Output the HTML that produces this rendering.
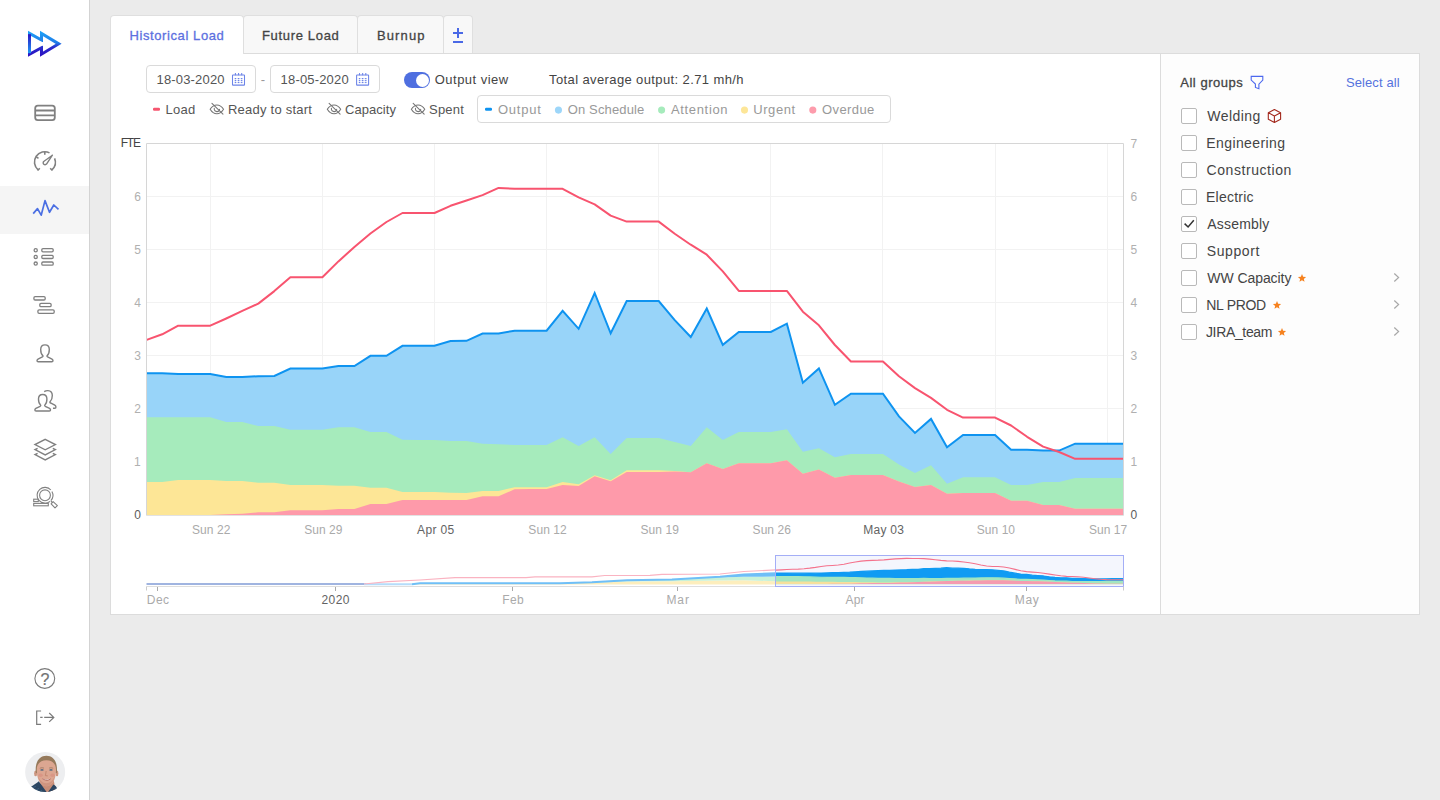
<!DOCTYPE html>
<html lang="en"><head><meta charset="utf-8"><title>Historical Load</title>
<style>
html,body{margin:0;padding:0}
body{width:1440px;height:800px;background:#ebebeb;font-family:"Liberation Sans", sans-serif;position:relative;overflow:hidden;color:#444}
.t{position:absolute;white-space:nowrap;line-height:1;display:block}
#sidebar{position:absolute;left:0;top:0;width:89px;height:800px;background:#fff;border-right:1px solid #d3d3d3}
#nav-active{position:absolute;left:0;top:186px;width:89px;height:48px;background:#f5f5f5}
.tab{position:absolute;top:15px;height:38px;box-sizing:border-box;background:#f8f8f8;border:1px solid #dfdfdf;border-bottom:none;border-radius:4px 4px 0 0}
.tab.active{background:#fff;height:39px;z-index:2}
#panel{position:absolute;left:110px;top:53px;width:1310px;height:562px;box-sizing:border-box;background:#fff;border:1px solid #dcdcdc}
#side{position:absolute;left:1160px;top:54px;width:259px;height:560px;box-sizing:border-box;background:#fdfdfd;border-left:1px solid #dcdcdc}
.inp{position:absolute;top:65px;width:110px;height:28px;box-sizing:border-box;border:1px solid #dadada;border-radius:4px;background:#fff}
#toggle{position:absolute;left:404px;top:72px;width:26px;height:16px;border-radius:8px;background:#4f6fe0}
#toggle i{position:absolute;left:11.5px;top:1.5px;width:13px;height:13px;border-radius:50%;background:#fff}
#lbox{position:absolute;left:477px;top:95px;width:414px;height:28px;box-sizing:border-box;border:1px solid #dadada;border-radius:4px}
.cb{position:absolute;left:1181px;width:16px;height:16px;box-sizing:border-box;border:1px solid #b9b9b9;border-radius:2px;background:#fff}
svg{position:absolute;left:0;top:0}
</style></head>
<body>
<div id="sidebar"><div id="nav-active"></div></div>
<div class="tab active" style="left:110px;width:134px"></div>
<div class="tab" style="left:243px;width:115px"></div>
<div class="tab" style="left:357px;width:87px"></div>
<div class="tab" style="left:443px;width:30px"></div>
<div id="panel"></div><div id="side"></div>
<div class="inp" style="left:146px"></div><div class="inp" style="left:270px"></div>
<div id="toggle"><i></i></div><div id="lbox"></div>
<div class="cb" style="top:108px"></div>
<div class="cb" style="top:135px"></div>
<div class="cb" style="top:162px"></div>
<div class="cb" style="top:189px"></div>
<div class="cb" style="top:216px"></div>
<div class="cb" style="top:243px"></div>
<div class="cb" style="top:270px"></div>
<div class="cb" style="top:297px"></div>
<div class="cb" style="top:324px"></div>
<svg width="1440" height="800" viewBox="0 0 1440 800" style="z-index:3">
<defs>
<linearGradient id="lg1" x1="0" y1="31" x2="0" y2="57" gradientUnits="userSpaceOnUse"><stop offset="0" stop-color="#1ea4f7"/><stop offset="0.45" stop-color="#1f7be8"/><stop offset="0.62" stop-color="#2a2ccc"/><stop offset="1" stop-color="#2b0cc0"/></linearGradient>
<linearGradient id="lg2" x1="0" y1="34" x2="0" y2="53" gradientUnits="userSpaceOnUse"><stop offset="0" stop-color="#2b10c2"/><stop offset="1" stop-color="#1e9af5"/></linearGradient>
</defs>
<path d="M29.5 33.4 L41.5 40 L41.5 33.5 L58.7 43.85 L41.5 54.2 L41.5 47.7 L29.5 54.3 Z" fill="none" stroke="url(#lg1)" stroke-width="3" stroke-linejoin="miter" stroke-miterlimit="6"/>
<rect x="28" y="34.2" width="3" height="19" fill="url(#lg2)"/>
<path d="M39.6 41.6 L43.4 42.3 L43.4 45.4 L39.6 46.1 Z" fill="#fff"/>
<g fill="none" stroke="#808080" stroke-width="1.8"><rect x="35.2" y="105.7" width="19.6" height="14.4" rx="2.6"/><path d="M35.2 110.5H54.8M35.2 115.4H54.8"/></g>
<g fill="none" stroke="#808080" stroke-width="1.6" stroke-linecap="butt"><path d="M38.1 169.9 A10.3 10.3 0 0 1 49.5 152.9"/><path d="M54.6 158.4 A10.3 10.3 0 0 1 51.9 169.9"/><path d="M37.6 170.5 L39.8 168.2 M52.4 170.5 L50.2 168.2 M44.8 152 V154.7 M36 156.7 L38.5 158.4"/><path d="M52.4 155.2 L43.7 161.5 A1.9 1.9 0 1 0 46.5 164.1 Z" stroke-linejoin="round" stroke-width="1.4"/></g>
<polyline points="33.2,213.6 37.5,208.6 41.2,215.2 45,200.6 49.5,212.3 53.8,205 58.5,209.4" fill="none" stroke="#4b6fe3" stroke-width="1.7" stroke-linejoin="round"/>
<g fill="none" stroke="#808080" stroke-width="1.3">
<circle cx="35.7" cy="250.2" r="1.6"/><rect x="41.8" y="248.6" width="11.4" height="3.2" rx="1.2"/>
<circle cx="35.7" cy="256.9" r="1.6"/><rect x="41.8" y="255.3" width="11.4" height="3.2" rx="1.2"/>
<circle cx="35.7" cy="263.6" r="1.6"/><rect x="41.8" y="262" width="11.4" height="3.2" rx="1.2"/>
</g>
<g fill="none" stroke="#808080" stroke-width="1.3"><rect x="33.9" y="296.7" width="11.3" height="3.3" rx="1.2"/><rect x="39.8" y="303.3" width="11.3" height="3.3" rx="1.2"/><rect x="37.9" y="309.9" width="16.3" height="3.4" rx="1.2"/></g>
<path d="M45 344.9 C42.1 344.9 40.7 346.9 40.7 349.5 C40.7 352.3 41.5 354.5 42.8 355.6 C43.2 356 43 356.6 42.4 356.9 L38 359.1 C36.7 359.9 36.6 361.8 38.2 361.8 L51.8 361.8 C53.4 361.8 53.3 359.9 52 359.1 L47.6 356.9 C47 356.6 46.8 356 47.2 355.6 C48.5 354.5 49.3 352.3 49.3 349.5 C49.3 346.9 47.9 344.9 45 344.9 Z" fill="none" stroke="#808080" stroke-width="1.4" stroke-linejoin="round"/>
<path d="M42.7 394.5 C39.86 394.5 38.49 396.46 38.49 399.01 C38.49 401.75 39.27 403.91 40.54 404.99 C40.94 405.38 40.74 405.97 40.15 406.26 L35.84 408.42 C34.57 409.2 34.47 411.06 36.04 411.06 L49.36 411.06 C50.93 411.06 50.83 409.2 49.56 408.42 L45.25 406.26 C44.66 405.97 44.46 405.38 44.86 404.99 C46.13 403.91 46.91 401.75 46.91 399.01 C46.91 396.46 45.54 394.5 42.7 394.5 Z" fill="none" stroke="#808080" stroke-width="1.4" stroke-linejoin="round"/>
<path d="M44.2 391.6 C45.3 390.9 46.6 390.5 47.9 390.6 C51 390.8 52.3 393 52.3 395.6 C52.3 398.4 51.5 400.4 50.2 401.6 C49.7 402.1 49.8 402.7 50.5 403 L54.8 405.2 C56.2 406 56.4 408.2 54.8 408.3 L53 408.3" fill="none" stroke="#808080" stroke-width="1.4" stroke-linecap="butt"/>
<g fill="none" stroke="#808080" stroke-width="1.4" stroke-linejoin="miter"><path d="M45.2 439.4 L55.4 444.6 L45.2 449.8 L35 444.6 Z"/><path d="M37.6 448.3 L35 449.6 L45.2 454.9 L55.4 449.6 L52.8 448.3"/><path d="M37.6 453.3 L35 454.6 L45.2 459.9 L55.4 454.6 L52.8 453.3"/></g>
<g fill="none" stroke="#808080" stroke-width="1.1"><path d="M50.87 490 A7.9 7.9 0 1 0 50.08 501.35" /><path d="M51.91 491.47 A7.9 7.9 0 0 1 50.87 500.59" /><circle cx="45" cy="495.3" r="5.4"/><path d="M51 501.2 L52.4 502.6"/><path d="M53.1 501.6 L57.4 505.6 L55 507.9 L51.1 503.8 Z" stroke-linejoin="round"/><rect x="33.7" y="499.2" width="4.6" height="2.4"/><rect x="33.7" y="503.4" width="14.6" height="2.4"/></g>
<circle cx="44.8" cy="678.5" r="9.9" fill="none" stroke="#7a7a7a" stroke-width="1.1"/>
<g fill="none" stroke="#7a7a7a" stroke-width="1.2"><path d="M41.1 711H36.7V724.3H41.1"/><path d="M40.2 717.4H42.6M44.2 717.4H53.6M49.2 713 L53.8 717.4 L49.2 721.9"/></g>
<defs><clipPath id="av"><circle cx="45.15" cy="772" r="20"/></clipPath></defs>
<g clip-path="url(#av)"><rect x="25" y="752" width="41" height="41" fill="#edeef0"/>
<path d="M40 779 L53.6 779 L55.4 790 L47 795 L40.5 788 Z" fill="#c78d77"/>
<path d="M27 797 L31 786.8 C33.6 784.8 36.6 783.2 38.8 781.2 L47.3 793 L53.4 784.6 C55.2 785.6 56.8 786.8 57.4 789.6 L58.4 797 Z" fill="#2b4662"/>
<path d="M33 787.5 L36 786.2 M35 790.5 L39 788.4 M39.5 792 L42 790 M55 788 L56.6 790.5" stroke="#3f6283" stroke-width="0.8" fill="none"/>
<ellipse cx="35.6" cy="773.4" rx="1.5" ry="2.9" fill="#cc957f"/><ellipse cx="57" cy="773.4" rx="1.4" ry="2.8" fill="#cc957f"/>
<path d="M35.9 773 C34.7 762.5 38.8 755.7 46.4 755.7 C54 755.7 57.9 762.5 56.8 773 Z" fill="#95795b"/>
<path d="M36.8 771 C36.3 765.2 39 760.5 46.4 760.3 C53.7 760.5 56.4 765.2 56 771 C56 779.2 52.2 786.3 46.4 786.3 C40.6 786.3 36.8 779.2 36.8 771 Z" fill="#dca691"/>
<path d="M37.6 774.5 C38.8 781.6 42.2 786.3 46.4 786.3 C50.6 786.3 54 781.6 55.2 774.5 C53.4 780.6 50 783.2 46.4 783.2 C42.8 783.2 39.4 780.6 37.6 774.5 Z" fill="#cf9580"/>
<ellipse cx="40.6" cy="775.3" rx="2.2" ry="1.8" fill="#d79080" opacity="0.7"/><ellipse cx="52.6" cy="775.3" rx="2.2" ry="1.8" fill="#d79080" opacity="0.7"/>
<path d="M42 778.3 C44.4 779.7 48.8 779.7 51.2 778.2 C49.6 781.2 43.8 781.4 42 778.3 Z" fill="#a45a54"/>
<path d="M42.8 778.7 C45.2 779.5 48.2 779.5 50.4 778.6 C48.8 780.2 44.4 780.3 42.8 778.7 Z" fill="#f4eae5"/>
<ellipse cx="42" cy="769.9" rx="1.7" ry="0.85" fill="#5d6d80"/><ellipse cx="51" cy="769.9" rx="1.7" ry="0.85" fill="#5d6d80"/>
<path d="M39.8 768.3 C41 767.6 43 767.6 44 768.2 M49 768.2 C50 767.6 52 767.6 53.2 768.3" fill="none" stroke="#8a6a52" stroke-width="0.6"/>
<path d="M46.2 771 L45.4 775.6 L47.8 775.9" fill="none" stroke="#bf846d" stroke-width="0.9"/>
</g>
<defs><clipPath id="plot"><rect x="147" y="144" width="976" height="371.2"/></clipPath></defs>
<path d="M147 461.5H1123M147 408.5H1123M147 355.5H1123M147 302.5H1123M147 249.5H1123M147 196.5H1123M210.5 144V515M322.5 144V515M434.5 144V515M546.5 144V515M658.5 144V515M770.5 144V515M882.5 144V515M995.5 144V515M1107.5 144V515" stroke="#f2f2f2" stroke-width="1" fill="none"/>
<g clip-path="url(#plot)">
<polygon points="146.2,373.2 162.22,373.2 178.23,374.1 194.25,374.1 210.27,374.1 226.28,377 242.3,377 258.31,376.2 274.33,376 290.35,368.6 306.36,368.6 322.38,368.6 338.4,366 354.41,366 370.43,355.8 386.45,355.8 402.46,345.8 418.48,345.8 434.5,345.8 450.51,341 466.53,340.8 482.54,333.5 498.56,333.5 514.58,330.7 530.59,330.7 546.61,330.7 562.63,310.9 578.64,328.8 594.66,293 610.68,333.3 626.69,301.1 642.71,301.1 658.72,301.1 674.74,320.2 690.76,337 706.77,308.6 722.79,344.9 738.81,331.9 754.82,331.9 770.84,331.9 786.86,323.7 802.87,382.7 818.89,368.4 834.9,404.8 850.92,393.7 866.94,393.7 882.95,393.7 898.97,416.4 914.99,432.9 931,418.9 947.02,447.2 963.04,434.9 979.05,434.9 995.07,434.9 1011.09,449.7 1027.1,449.7 1043.12,450.6 1059.13,450.6 1075.15,443.7 1091.17,443.7 1107.18,443.7 1123.2,443.7 1124.5,443.7 1124.5,515.4 1123.2,515.4 1107.18,515.4 1091.17,515.4 1075.15,515.4 1059.13,515.4 1043.12,515.4 1027.1,515.4 1011.09,515.4 995.07,515.4 979.05,515.4 963.04,515.4 947.02,515.4 931,515.4 914.99,515.4 898.97,515.4 882.95,515.4 866.94,515.4 850.92,515.4 834.9,515.4 818.89,515.4 802.87,515.4 786.86,515.4 770.84,515.4 754.82,515.4 738.81,515.4 722.79,515.4 706.77,515.4 690.76,515.4 674.74,515.4 658.72,515.4 642.71,515.4 626.69,515.4 610.68,515.4 594.66,515.4 578.64,515.4 562.63,515.4 546.61,515.4 530.59,515.4 514.58,515.4 498.56,515.4 482.54,515.4 466.53,515.4 450.51,515.4 434.5,515.4 418.48,515.4 402.46,515.4 386.45,515.4 370.43,515.4 354.41,515.4 338.4,515.4 322.38,515.4 306.36,515.4 290.35,515.4 274.33,515.4 258.31,515.4 242.3,515.4 226.28,515.4 210.27,515.4 194.25,515.4 178.23,515.4 162.22,515.4 146.2,515.4" fill="#98d4f9"/>
<polygon points="146.2,417.2 162.22,417.2 178.23,417.2 194.25,417.2 210.27,417.2 226.28,421.9 242.3,421.9 258.31,426 274.33,426 290.35,429.8 306.36,429.8 322.38,429.8 338.4,427.2 354.41,427.2 370.43,431.9 386.45,431.9 402.46,439.8 418.48,440 434.5,440 450.51,441 466.53,441 482.54,443.7 498.56,444.2 514.58,445 530.59,445 546.61,445 562.63,437.2 578.64,446 594.66,437.2 610.68,454 626.69,438 642.71,438 658.72,438 674.74,441.9 690.76,446 706.77,427.2 722.79,440 738.81,432 754.82,432 770.84,432 786.86,429.3 802.87,451.7 818.89,448.3 834.9,457.3 850.92,454.1 866.94,454.1 882.95,454.1 898.97,464.6 914.99,472.9 931,465.3 947.02,483.8 963.04,477.2 979.05,477.2 995.07,477.2 1011.09,485 1027.1,485 1043.12,482.1 1059.13,482.1 1075.15,478 1091.17,478 1107.18,478 1123.2,478 1124.5,478 1124.5,515.4 1123.2,515.4 1107.18,515.4 1091.17,515.4 1075.15,515.4 1059.13,515.4 1043.12,515.4 1027.1,515.4 1011.09,515.4 995.07,515.4 979.05,515.4 963.04,515.4 947.02,515.4 931,515.4 914.99,515.4 898.97,515.4 882.95,515.4 866.94,515.4 850.92,515.4 834.9,515.4 818.89,515.4 802.87,515.4 786.86,515.4 770.84,515.4 754.82,515.4 738.81,515.4 722.79,515.4 706.77,515.4 690.76,515.4 674.74,515.4 658.72,515.4 642.71,515.4 626.69,515.4 610.68,515.4 594.66,515.4 578.64,515.4 562.63,515.4 546.61,515.4 530.59,515.4 514.58,515.4 498.56,515.4 482.54,515.4 466.53,515.4 450.51,515.4 434.5,515.4 418.48,515.4 402.46,515.4 386.45,515.4 370.43,515.4 354.41,515.4 338.4,515.4 322.38,515.4 306.36,515.4 290.35,515.4 274.33,515.4 258.31,515.4 242.3,515.4 226.28,515.4 210.27,515.4 194.25,515.4 178.23,515.4 162.22,515.4 146.2,515.4" fill="#a6ebbc"/>
<polygon points="146.2,481.9 162.22,481.9 178.23,480 194.25,480 210.27,480 226.28,481 242.3,481 258.31,482.8 274.33,482.8 290.35,484.9 306.36,484.9 322.38,484.9 338.4,485.8 354.41,485.8 370.43,487.7 386.45,487.7 402.46,491.9 418.48,491.9 434.5,491.9 450.51,492.8 466.53,493 482.54,491 498.56,491 514.58,487.2 530.59,487.2 546.61,487.2 562.63,482 578.64,484.2 594.66,475.3 610.68,480.2 626.69,470.2 642.71,470.2 658.72,470.2 674.74,471 690.76,472.3 706.77,463.3 722.79,469 738.81,463.3 754.82,463.3 770.84,463.3 786.86,460.2 802.87,473.8 818.89,469.4 834.9,477.7 850.92,475 866.94,475 882.95,475 898.97,481.6 914.99,487 931,485 947.02,493.8 963.04,493 979.05,493 995.07,493 1011.09,500.8 1027.1,500.8 1043.12,505 1059.13,505 1075.15,508.8 1091.17,508.8 1107.18,508.8 1123.2,508.8 1124.5,508.8 1124.5,515.4 1123.2,515.4 1107.18,515.4 1091.17,515.4 1075.15,515.4 1059.13,515.4 1043.12,515.4 1027.1,515.4 1011.09,515.4 995.07,515.4 979.05,515.4 963.04,515.4 947.02,515.4 931,515.4 914.99,515.4 898.97,515.4 882.95,515.4 866.94,515.4 850.92,515.4 834.9,515.4 818.89,515.4 802.87,515.4 786.86,515.4 770.84,515.4 754.82,515.4 738.81,515.4 722.79,515.4 706.77,515.4 690.76,515.4 674.74,515.4 658.72,515.4 642.71,515.4 626.69,515.4 610.68,515.4 594.66,515.4 578.64,515.4 562.63,515.4 546.61,515.4 530.59,515.4 514.58,515.4 498.56,515.4 482.54,515.4 466.53,515.4 450.51,515.4 434.5,515.4 418.48,515.4 402.46,515.4 386.45,515.4 370.43,515.4 354.41,515.4 338.4,515.4 322.38,515.4 306.36,515.4 290.35,515.4 274.33,515.4 258.31,515.4 242.3,515.4 226.28,515.4 210.27,515.4 194.25,515.4 178.23,515.4 162.22,515.4 146.2,515.4" fill="#fde696"/>
<polygon points="146.2,515.4 162.22,515.4 178.23,515.4 194.25,515.27 210.27,515.02 226.28,514.27 242.3,513.64 258.31,512.26 274.33,512.26 290.35,510.2 306.36,510.2 322.38,510.2 338.4,509 354.41,509 370.43,504 386.45,504 402.46,500 418.48,500 434.5,500 450.51,500 466.53,500 482.54,496.3 498.56,496.3 514.58,489.3 530.59,489 546.61,489 562.63,484.9 578.64,486 594.66,476.3 610.68,481.2 626.69,472 642.71,472 658.72,472 674.74,471.4 690.76,472.3 706.77,463.3 722.79,469 738.81,463.3 754.82,463.3 770.84,463.3 786.86,460.2 802.87,473.8 818.89,469.4 834.9,477.7 850.92,475 866.94,475 882.95,475 898.97,481.6 914.99,487 931,485 947.02,493.8 963.04,493 979.05,493 995.07,493 1011.09,500.8 1027.1,500.8 1043.12,505 1059.13,505 1075.15,508.8 1091.17,508.8 1107.18,508.8 1123.2,508.8 1124.5,508.8 1124.5,515.4 1123.2,515.4 1107.18,515.4 1091.17,515.4 1075.15,515.4 1059.13,515.4 1043.12,515.4 1027.1,515.4 1011.09,515.4 995.07,515.4 979.05,515.4 963.04,515.4 947.02,515.4 931,515.4 914.99,515.4 898.97,515.4 882.95,515.4 866.94,515.4 850.92,515.4 834.9,515.4 818.89,515.4 802.87,515.4 786.86,515.4 770.84,515.4 754.82,515.4 738.81,515.4 722.79,515.4 706.77,515.4 690.76,515.4 674.74,515.4 658.72,515.4 642.71,515.4 626.69,515.4 610.68,515.4 594.66,515.4 578.64,515.4 562.63,515.4 546.61,515.4 530.59,515.4 514.58,515.4 498.56,515.4 482.54,515.4 466.53,515.4 450.51,515.4 434.5,515.4 418.48,515.4 402.46,515.4 386.45,515.4 370.43,515.4 354.41,515.4 338.4,515.4 322.38,515.4 306.36,515.4 290.35,515.4 274.33,515.4 258.31,515.4 242.3,515.4 226.28,515.4 210.27,515.4 194.25,515.4 178.23,515.4 162.22,515.4 146.2,515.4" fill="#fe9aaa"/>
<polyline points="146.2,373.2 162.22,373.2 178.23,374.1 194.25,374.1 210.27,374.1 226.28,377 242.3,377 258.31,376.2 274.33,376 290.35,368.6 306.36,368.6 322.38,368.6 338.4,366 354.41,366 370.43,355.8 386.45,355.8 402.46,345.8 418.48,345.8 434.5,345.8 450.51,341 466.53,340.8 482.54,333.5 498.56,333.5 514.58,330.7 530.59,330.7 546.61,330.7 562.63,310.9 578.64,328.8 594.66,293 610.68,333.3 626.69,301.1 642.71,301.1 658.72,301.1 674.74,320.2 690.76,337 706.77,308.6 722.79,344.9 738.81,331.9 754.82,331.9 770.84,331.9 786.86,323.7 802.87,382.7 818.89,368.4 834.9,404.8 850.92,393.7 866.94,393.7 882.95,393.7 898.97,416.4 914.99,432.9 931,418.9 947.02,447.2 963.04,434.9 979.05,434.9 995.07,434.9 1011.09,449.7 1027.1,449.7 1043.12,450.6 1059.13,450.6 1075.15,443.7 1091.17,443.7 1107.18,443.7 1123.2,443.7 1124.5,443.7" fill="none" stroke="#0e93f0" stroke-width="2" stroke-linejoin="miter"/>
<polyline points="146.2,340 162.22,334.3 178.23,325.7 194.25,325.7 210.27,325.7 226.28,318.5 242.3,310.9 258.31,303.6 274.33,291.1 290.35,277.2 306.36,277.2 322.38,277.2 338.4,261.4 354.41,247 370.43,233.5 386.45,222 402.46,213 418.48,213 434.5,213 450.51,205.8 466.53,200.5 482.54,195.1 498.56,187.9 514.58,188.8 530.59,188.8 546.61,188.8 562.63,188.8 578.64,197.4 594.66,204.4 610.68,215.6 626.69,221.6 642.71,221.6 658.72,221.6 674.74,233.7 690.76,244.7 706.77,254.7 722.79,271.4 738.81,290.9 754.82,290.9 770.84,290.9 786.86,290.9 802.87,311.7 818.89,325.3 834.9,345 850.92,361.5 866.94,361.5 882.95,361.5 898.97,376.3 914.99,388.1 931,397.9 947.02,409.8 963.04,417.6 979.05,417.6 995.07,417.6 1011.09,425.5 1027.1,436.8 1043.12,446.6 1059.13,452 1075.15,458.8 1091.17,458.8 1107.18,458.8 1123.2,458.8 1124.5,458.8" fill="none" stroke="#f8546f" stroke-width="2" stroke-linejoin="round"/>
</g>
<path d="M146.5 515.5V143.5H1123.5V515.5" fill="none" stroke="#d6d6d6" stroke-width="1"/>
<path d="M146.5 515.5H1123.5" fill="none" stroke="#e2e2e2" stroke-width="1"/>
<rect x="775.5" y="555.5" width="348" height="31" fill="#f4f6fd" stroke="none"/>
<polygon points="412,584.2 420,583.4 560,583.5 592,582.8 627,581.6 672,581.2 720,580.6 743.7,580.2 775.5,581.3 775.5,584.6 412,584.6" fill="#fdeebd"/>
<polygon points="412,584.2 420,583.4 560,583.5 592,582.6 627,580.6 672,579.7 715,577.3 728,577.2 743.7,576.8 775.5,576.6 775.5,581.3 743.7,580.2 720,580.6 672,581.2 627,581.6 592,582.8 560,583.5 420,583.4 412,584.2" fill="#c9f2d8"/>
<polygon points="412,584.2 420,583.2 560,583.3 592,582.3 627,580.3 672,579.4 720,576.7 743.7,574.6 775.5,573.3 775.5,576.6 743.7,576.8 728,577.2 715,577.3 672,579.7 627,580.6 592,582.6 560,583.5 420,583.4 412,584.2" fill="#6fbff7"/>
<polyline points="412,584.2 420,583.2 560,583.3 592,582.3 627,580.3 672,579.4 720,576.7 743.7,574.6 775.5,573.3" fill="none" stroke="#6fbff7" stroke-width="2"/>
<polyline points="146.5,584 366,584" fill="none" stroke="#a0b4e0" stroke-width="2"/>
<polyline points="364,584.2 412,584.2" fill="none" stroke="#b5dcfa" stroke-width="2"/>
<polyline points="364,584 388,581.6 420,580 455,577.6 526,577.6 535,576.8 592,576.8 604.7,575.5 650,575.3 662,574.4 720,574 743.7,571.5 775.5,569.9" fill="none" stroke="#fab3c1" stroke-width="1.2"/>
<defs><clipPath id="brc"><rect x="776" y="556" width="347" height="30"/></clipPath></defs><g clip-path="url(#brc)">
<polygon points="775.5,573.05 781.2,573.06 786.91,573.07 792.61,573.13 798.32,573.19 804.02,573.22 809.73,573.25 815.43,573.16 821.14,573.03 826.84,572.9 832.55,572.74 838.25,572.58 843.96,572.38 849.66,572.17 855.37,571.81 861.07,571.49 866.78,571.17 872.48,570.94 878.19,570.7 883.89,570.51 889.6,570.31 895.3,570.07 901.01,569.91 906.71,569.75 912.42,569.39 918.12,569.32 923.83,568.72 929.53,568.76 935.24,568.3 940.94,568.14 946.65,567.7 952.35,568.13 958.06,568.19 963.76,568.31 969.47,569 975.17,569.49 980.88,569.68 986.58,569.59 992.29,569.83 997.99,570.43 1003.7,571.01 1009.4,572.16 1015.11,573.14 1020.81,574.25 1026.52,574.42 1032.22,575.18 1037.93,575.62 1043.63,576.02 1049.34,576.87 1055.04,577.52 1060.75,577.81 1066.45,577.85 1072.16,578.33 1077.86,578.37 1083.57,578.62 1089.27,578.87 1094.98,579.01 1100.68,578.91 1106.39,578.82 1112.09,578.71 1117.8,578.6 1123.5,578.6 1123.5,584.3 1117.8,584.3 1112.09,584.3 1106.39,584.3 1100.68,584.3 1094.98,584.3 1089.27,584.3 1083.57,584.3 1077.86,584.3 1072.16,584.3 1066.45,584.3 1060.75,584.3 1055.04,584.3 1049.34,584.3 1043.63,584.3 1037.93,584.3 1032.22,584.3 1026.52,584.3 1020.81,584.3 1015.11,584.3 1009.4,584.3 1003.7,584.3 997.99,584.3 992.29,584.3 986.58,584.3 980.88,584.3 975.17,584.3 969.47,584.3 963.76,584.3 958.06,584.3 952.35,584.3 946.65,584.3 940.94,584.3 935.24,584.3 929.53,584.3 923.83,584.3 918.12,584.3 912.42,584.3 906.71,584.3 901.01,584.3 895.3,584.3 889.6,584.3 883.89,584.3 878.19,584.3 872.48,584.3 866.78,584.3 861.07,584.3 855.37,584.3 849.66,584.3 843.96,584.3 838.25,584.3 832.55,584.3 826.84,584.3 821.14,584.3 815.43,584.3 809.73,584.3 804.02,584.3 798.32,584.3 792.61,584.3 786.91,584.3 781.2,584.3 775.5,584.3" fill="#109bf3" stroke="#109bf3" stroke-width="1.3" stroke-linejoin="round"/>
<polygon points="775.5,576.5 781.2,576.5 786.91,576.5 792.61,576.58 798.32,576.65 804.02,576.79 809.73,576.93 815.43,577.13 821.14,577.26 826.84,577.38 832.55,577.4 838.25,577.42 843.96,577.45 849.66,577.48 855.37,577.64 861.07,577.85 866.78,578.05 872.48,578.19 878.19,578.34 883.89,578.4 889.6,578.46 895.3,578.54 901.01,578.61 906.71,578.67 912.42,578.57 918.12,578.6 923.83,578.47 929.53,578.61 935.24,578.5 940.94,578.52 946.65,578.39 952.35,578.46 958.06,578.34 963.76,578.17 969.47,578.2 975.17,578.1 980.88,577.95 986.58,577.73 992.29,577.76 997.99,577.94 1003.7,578.2 1009.4,578.6 1015.11,578.95 1020.81,579.34 1026.52,579.38 1032.22,579.64 1037.93,579.89 1043.63,580.06 1049.34,580.53 1055.04,580.9 1060.75,581.1 1066.45,581.17 1072.16,581.48 1077.86,581.5 1083.57,581.57 1089.27,581.65 1094.98,581.66 1100.68,581.55 1106.39,581.44 1112.09,581.38 1117.8,581.31 1123.5,581.31 1123.5,584.3 1117.8,584.3 1112.09,584.3 1106.39,584.3 1100.68,584.3 1094.98,584.3 1089.27,584.3 1083.57,584.3 1077.86,584.3 1072.16,584.3 1066.45,584.3 1060.75,584.3 1055.04,584.3 1049.34,584.3 1043.63,584.3 1037.93,584.3 1032.22,584.3 1026.52,584.3 1020.81,584.3 1015.11,584.3 1009.4,584.3 1003.7,584.3 997.99,584.3 992.29,584.3 986.58,584.3 980.88,584.3 975.17,584.3 969.47,584.3 963.76,584.3 958.06,584.3 952.35,584.3 946.65,584.3 940.94,584.3 935.24,584.3 929.53,584.3 923.83,584.3 918.12,584.3 912.42,584.3 906.71,584.3 901.01,584.3 895.3,584.3 889.6,584.3 883.89,584.3 878.19,584.3 872.48,584.3 866.78,584.3 861.07,584.3 855.37,584.3 849.66,584.3 843.96,584.3 838.25,584.3 832.55,584.3 826.84,584.3 821.14,584.3 815.43,584.3 809.73,584.3 804.02,584.3 798.32,584.3 792.61,584.3 786.91,584.3 781.2,584.3 775.5,584.3" fill="#a3e6c1" stroke="#a3e6c1" stroke-width="1.2" stroke-linejoin="round"/>
<polygon points="775.5,581.57 781.2,581.55 786.91,581.53 792.61,581.52 798.32,581.5 804.02,581.55 809.73,581.59 815.43,581.67 821.14,581.73 826.84,581.79 832.55,581.84 838.25,581.89 843.96,581.93 849.66,581.98 855.37,582.09 861.07,582.18 866.78,582.28 872.48,582.36 878.19,582.44 883.89,582.43 889.6,582.42 895.3,582.34 901.01,582.25 906.71,582.16 912.42,582.02 918.12,581.91 923.83,581.72 929.53,581.61 935.24,581.34 940.94,581.16 946.65,580.94 952.35,580.87 958.06,580.74 963.76,580.63 969.47,580.61 975.17,580.5 980.88,580.38 986.58,580.24 992.29,580.19 997.99,580.27 1003.7,580.36 1009.4,580.59 1015.11,580.78 1020.81,581.01 1026.52,581.03 1032.22,581.22 1037.93,581.37 1043.63,581.53 1049.34,581.83 1055.04,582.11 1060.75,582.29 1066.45,582.39 1072.16,582.64 1077.86,582.75 1083.57,582.94 1089.27,583.13 1094.98,583.38 1100.68,583.5 1106.39,583.63 1112.09,583.69 1117.8,583.75 1123.5,583.75 1123.5,584.3 1117.8,584.3 1112.09,584.3 1106.39,584.3 1100.68,584.3 1094.98,584.3 1089.27,584.3 1083.57,584.3 1077.86,584.3 1072.16,584.3 1066.45,584.3 1060.75,584.3 1055.04,584.3 1049.34,584.3 1043.63,584.3 1037.93,584.3 1032.22,584.3 1026.52,584.3 1020.81,584.3 1015.11,584.3 1009.4,584.3 1003.7,584.3 997.99,584.3 992.29,584.3 986.58,584.3 980.88,584.3 975.17,584.3 969.47,584.3 963.76,584.3 958.06,584.3 952.35,584.3 946.65,584.3 940.94,584.3 935.24,584.3 929.53,584.3 923.83,584.3 918.12,584.3 912.42,584.3 906.71,584.3 901.01,584.3 895.3,584.3 889.6,584.3 883.89,584.3 878.19,584.3 872.48,584.3 866.78,584.3 861.07,584.3 855.37,584.3 849.66,584.3 843.96,584.3 838.25,584.3 832.55,584.3 826.84,584.3 821.14,584.3 815.43,584.3 809.73,584.3 804.02,584.3 798.32,584.3 792.61,584.3 786.91,584.3 781.2,584.3 775.5,584.3" fill="#f6e09c"/>
<polygon points="775.5,584.27 781.2,584.27 786.91,584.26 792.61,584.25 798.32,584.22 804.02,584.17 809.73,584.12 815.43,584.04 821.14,583.98 826.84,583.92 832.55,583.87 838.25,583.82 843.96,583.72 849.66,583.63 855.37,583.46 861.07,583.32 866.78,583.18 872.48,583.12 878.19,583.05 883.89,582.99 889.6,582.94 895.3,582.77 901.01,582.59 906.71,582.42 912.42,582.24 918.12,582.08 923.83,581.87 929.53,581.75 935.24,581.48 940.94,581.27 946.65,581.05 952.35,580.97 958.06,580.83 963.76,580.7 969.47,580.65 975.17,580.51 980.88,580.38 986.58,580.24 992.29,580.19 997.99,580.27 1003.7,580.36 1009.4,580.59 1015.11,580.78 1020.81,581.01 1026.52,581.03 1032.22,581.22 1037.93,581.37 1043.63,581.53 1049.34,581.83 1055.04,582.11 1060.75,582.29 1066.45,582.39 1072.16,582.64 1077.86,582.75 1083.57,582.94 1089.27,583.13 1094.98,583.38 1100.68,583.5 1106.39,583.63 1112.09,583.69 1117.8,583.75 1123.5,583.75 1123.5,584.3 1117.8,584.3 1112.09,584.3 1106.39,584.3 1100.68,584.3 1094.98,584.3 1089.27,584.3 1083.57,584.3 1077.86,584.3 1072.16,584.3 1066.45,584.3 1060.75,584.3 1055.04,584.3 1049.34,584.3 1043.63,584.3 1037.93,584.3 1032.22,584.3 1026.52,584.3 1020.81,584.3 1015.11,584.3 1009.4,584.3 1003.7,584.3 997.99,584.3 992.29,584.3 986.58,584.3 980.88,584.3 975.17,584.3 969.47,584.3 963.76,584.3 958.06,584.3 952.35,584.3 946.65,584.3 940.94,584.3 935.24,584.3 929.53,584.3 923.83,584.3 918.12,584.3 912.42,584.3 906.71,584.3 901.01,584.3 895.3,584.3 889.6,584.3 883.89,584.3 878.19,584.3 872.48,584.3 866.78,584.3 861.07,584.3 855.37,584.3 849.66,584.3 843.96,584.3 838.25,584.3 832.55,584.3 826.84,584.3 821.14,584.3 815.43,584.3 809.73,584.3 804.02,584.3 798.32,584.3 792.61,584.3 786.91,584.3 781.2,584.3 775.5,584.3" fill="#f59bb0"/>
<rect x="776" y="584.3" width="347" height="1.8" fill="#f4f6fd"/>
<polyline points="775.5,570.17 781.2,569.87 786.91,569.49 792.61,569.27 798.32,569.08 804.02,568.69 809.73,568.1 815.43,567.38 821.14,566.49 826.84,565.8 832.55,565.43 838.25,565.01 843.96,564.22 849.66,563.07 855.37,562.03 861.07,561.13 866.78,560.59 872.48,560.35 878.19,560.16 883.89,559.83 889.6,559.36 895.3,558.89 901.01,558.58 906.71,558.42 912.42,558.44 918.12,558.44 923.83,558.67 929.53,559.08 935.24,559.78 940.94,560.42 946.65,560.88 952.35,561.03 958.06,561.35 963.76,561.96 969.47,562.83 975.17,563.83 980.88,565.05 986.58,566 992.29,566.51 997.99,566.51 1003.7,567.06 1009.4,567.97 1015.11,569.4 1020.81,570.71 1026.52,571.66 1032.22,572.1 1037.93,572.49 1043.63,573.19 1049.34,574.15 1055.04,575.03 1060.75,575.81 1066.45,576.33 1072.16,576.54 1077.86,576.74 1083.57,577.25 1089.27,578.01 1094.98,578.71 1100.68,579.29 1106.39,579.62 1112.09,579.79 1117.8,579.79 1123.5,579.79" fill="none" stroke="#f4728c" stroke-width="1.1"/>
</g>
<rect x="775.5" y="555.5" width="348" height="31" fill="none" stroke="#a4aef6" stroke-width="1"/>
<path d="M146.5 586.5H775" stroke="#dedede" stroke-width="1" fill="none"/>
<path d="M146.5 586.5V590.5M1123.5 586.5V590.5" stroke="#ccc" stroke-width="1" fill="none"/>
<path d="M157.5 587V591M335.5 587V591M512.5 587V591M677.5 587V591M854.5 587V591M1026.5 587V591" stroke="#aaa" stroke-width="1" fill="none"/>
<path d="M453 33H463M458 28V38M453 42H463" stroke="#4a69e6" stroke-width="2" fill="none"/>
<g fill="none" stroke="#6c84e8" stroke-width="1.05"><rect x="232.5" y="74.95" width="12" height="10.2" rx="0.5"/><path d="M235.4 73.1V75.3"/><path d="M238.55 73.1V75.3"/><path d="M241.7 73.1V75.3"/></g><g fill="#6c84e8"><rect x="234.75" y="78.35" width="7.6" height="0.5" opacity="0.45"/><rect x="234.75" y="78" width="1.3" height="1.2"/><rect x="237.9" y="78" width="1.3" height="1.2"/><rect x="241.05" y="78" width="1.3" height="1.2"/><rect x="234.75" y="80.3" width="7.6" height="0.5" opacity="0.45"/><rect x="234.75" y="79.95" width="1.3" height="1.2"/><rect x="237.9" y="79.95" width="1.3" height="1.2"/><rect x="241.05" y="79.95" width="1.3" height="1.2"/><rect x="234.75" y="82.25" width="7.6" height="0.5" opacity="0.45"/><rect x="234.75" y="81.9" width="1.3" height="1.2"/><rect x="237.9" y="81.9" width="1.3" height="1.2"/><rect x="241.05" y="81.9" width="1.3" height="1.2"/></g>
<g fill="none" stroke="#6c84e8" stroke-width="1.05"><rect x="356.6" y="74.95" width="12" height="10.2" rx="0.5"/><path d="M359.5 73.1V75.3"/><path d="M362.65 73.1V75.3"/><path d="M365.8 73.1V75.3"/></g><g fill="#6c84e8"><rect x="358.85" y="78.35" width="7.6" height="0.5" opacity="0.45"/><rect x="358.85" y="78" width="1.3" height="1.2"/><rect x="362" y="78" width="1.3" height="1.2"/><rect x="365.15" y="78" width="1.3" height="1.2"/><rect x="358.85" y="80.3" width="7.6" height="0.5" opacity="0.45"/><rect x="358.85" y="79.95" width="1.3" height="1.2"/><rect x="362" y="79.95" width="1.3" height="1.2"/><rect x="365.15" y="79.95" width="1.3" height="1.2"/><rect x="358.85" y="82.25" width="7.6" height="0.5" opacity="0.45"/><rect x="358.85" y="81.9" width="1.3" height="1.2"/><rect x="362" y="81.9" width="1.3" height="1.2"/><rect x="365.15" y="81.9" width="1.3" height="1.2"/></g>
<rect x="153" y="107.8" width="7" height="3" rx="1.2" fill="#f6566f"/>
<g transform="translate(209.75 103)" fill="none" stroke="#757575" stroke-width="1.05" stroke-linecap="round"><path d="M0.4 6.3 C2.2 3.4 4.6 1.9 7.1 1.9 C9.6 1.9 12 3.4 13.8 6.3 C12 9.3 9.6 10.8 7.1 10.8 C4.6 10.8 2.2 9.3 0.4 6.3 Z"/><path d="M4.5 5.2 C4.2 7.2 5.4 8.6 7.2 8.6 C8.6 8.6 9.6 7.8 9.8 6.2"/><path d="M2.2 0.3 L13.2 11.2"/></g>
<g transform="translate(326.9 103)" fill="none" stroke="#757575" stroke-width="1.05" stroke-linecap="round"><path d="M0.4 6.3 C2.2 3.4 4.6 1.9 7.1 1.9 C9.6 1.9 12 3.4 13.8 6.3 C12 9.3 9.6 10.8 7.1 10.8 C4.6 10.8 2.2 9.3 0.4 6.3 Z"/><path d="M4.5 5.2 C4.2 7.2 5.4 8.6 7.2 8.6 C8.6 8.6 9.6 7.8 9.8 6.2"/><path d="M2.2 0.3 L13.2 11.2"/></g>
<g transform="translate(410.95 103)" fill="none" stroke="#757575" stroke-width="1.05" stroke-linecap="round"><path d="M0.4 6.3 C2.2 3.4 4.6 1.9 7.1 1.9 C9.6 1.9 12 3.4 13.8 6.3 C12 9.3 9.6 10.8 7.1 10.8 C4.6 10.8 2.2 9.3 0.4 6.3 Z"/><path d="M4.5 5.2 C4.2 7.2 5.4 8.6 7.2 8.6 C8.6 8.6 9.6 7.8 9.8 6.2"/><path d="M2.2 0.3 L13.2 11.2"/></g>
<rect x="485" y="107.8" width="7" height="3" rx="1.2" fill="#0e93f0"/>
<circle cx="558.45" cy="110.1" r="3.55" fill="#9dd6f9"/>
<circle cx="661.6" cy="110.1" r="3.55" fill="#a6ebbc"/>
<circle cx="744.5" cy="110.1" r="3.55" fill="#fde698"/>
<circle cx="812.8" cy="110.1" r="3.55" fill="#fd9cac"/>
<path d="M1251.2 76.4H1262.8V80.1L1258.9 84.1V88.8L1255.4 87.4V84.1L1251.2 80.1Z" fill="none" stroke="#4c68ee" stroke-width="1.1" stroke-linejoin="miter"/>
<path d="M1274.4 109.5L1280.6 112.8V119.3L1274.4 122.5L1268.3 119.3V112.8ZM1268.3 112.8L1274.4 116L1280.6 112.8M1274.4 116V122.5" fill="none" stroke="#a3291d" stroke-width="1.1" stroke-linejoin="round"/>
<polygon points="1302,274 1303.14,276.73 1306.09,276.97 1303.84,278.9 1304.53,281.78 1302,280.24 1299.47,281.78 1300.16,278.9 1297.91,276.97 1300.86,276.73" fill="#f6821f"/>
<polygon points="1277,301 1278.14,303.73 1281.09,303.97 1278.84,305.9 1279.53,308.78 1277,307.24 1274.47,308.78 1275.16,305.9 1272.91,303.97 1275.86,303.73" fill="#f6821f"/>
<polygon points="1282,328 1283.14,330.73 1286.09,330.97 1283.84,332.9 1284.53,335.78 1282,334.24 1279.47,335.78 1280.16,332.9 1277.91,330.97 1280.86,330.73" fill="#f6821f"/>
<path d="M1394.3 273.5L1398.6 277.5L1394.3 281.5" fill="none" stroke="#a8a8a8" stroke-width="1.2"/>
<path d="M1394.3 300.5L1398.6 304.5L1394.3 308.5" fill="none" stroke="#a8a8a8" stroke-width="1.2"/>
<path d="M1394.3 327.5L1398.6 331.5L1394.3 335.5" fill="none" stroke="#a8a8a8" stroke-width="1.2"/>
<path d="M1184.6 223.6L1188.1 227L1193.8 220.3" fill="none" stroke="#333" stroke-width="1.5"/>
</svg>
<div style="position:absolute;left:0;top:0;z-index:4">
<span class="t" style="left:129.53px;top:28.6px;font-size:13px;color:#5c70e0;letter-spacing:0.59px;-webkit-text-stroke:0.3px currentColor;">Historical Load</span>
<span class="t" style="left:261.93px;top:28.6px;font-size:13px;color:#444;letter-spacing:0.68px;-webkit-text-stroke:0.3px currentColor;">Future Load</span>
<span class="t" style="left:376.93px;top:28.6px;font-size:13px;color:#444;letter-spacing:1.14px;-webkit-text-stroke:0.3px currentColor;">Burnup</span>
<span class="t" style="left:156.51px;top:72.6px;font-size:13px;color:#555;letter-spacing:0.17px;">18-03-2020</span>
<span class="t" style="left:280.61px;top:72.6px;font-size:13px;color:#555;letter-spacing:0.17px;">18-05-2020</span>
<span class="t" style="left:260.64px;top:72.6px;font-size:13px;color:#999;">-</span>
<span class="t" style="left:434.78px;top:72.6px;font-size:13px;color:#444;letter-spacing:0.47px;">Output view</span>
<span class="t" style="left:549.01px;top:72.6px;font-size:13px;color:#444;letter-spacing:0.39px;">Total average output: 2.71 mh/h</span>
<span class="t" style="left:165.43px;top:103px;font-size:13px;color:#555;letter-spacing:0.29px;">Load</span>
<span class="t" style="left:227.93px;top:103px;font-size:13px;color:#555;letter-spacing:0.24px;">Ready to start</span>
<span class="t" style="left:344.94px;top:103px;font-size:13px;color:#555;letter-spacing:0.06px;">Capacity</span>
<span class="t" style="left:429.01px;top:103px;font-size:13px;color:#555;letter-spacing:0.22px;">Spent</span>
<span class="t" style="left:497.98px;top:103px;font-size:13px;color:#999;letter-spacing:0.76px;">Output</span>
<span class="t" style="left:567.68px;top:103px;font-size:13px;color:#999;letter-spacing:0.15px;">On Schedule</span>
<span class="t" style="left:670.97px;top:103px;font-size:13px;color:#999;letter-spacing:0.66px;">Attention</span>
<span class="t" style="left:753.2px;top:103px;font-size:13px;color:#999;letter-spacing:0.6px;">Urgent</span>
<span class="t" style="left:821.98px;top:103px;font-size:13px;color:#999;letter-spacing:0.41px;">Overdue</span>
<span class="t" style="left:120.72px;top:136.8px;font-size:12px;color:#444;letter-spacing:-1.2px;">FTE</span>
<span class="t" style="left:134.26px;top:508.7px;font-size:12px;color:#5c5c5c;">0</span>
<span class="t" style="left:134.1px;top:455.7px;font-size:12px;color:#b0b0b0;">1</span>
<span class="t" style="left:134.26px;top:402.7px;font-size:12px;color:#b0b0b0;">2</span>
<span class="t" style="left:134.3px;top:349.7px;font-size:12px;color:#b0b0b0;">3</span>
<span class="t" style="left:134.3px;top:296.7px;font-size:12px;color:#b0b0b0;">4</span>
<span class="t" style="left:134.27px;top:243.7px;font-size:12px;color:#b0b0b0;">5</span>
<span class="t" style="left:134.22px;top:190.7px;font-size:12px;color:#b0b0b0;">6</span>
<span class="t" style="left:1130.56px;top:508.7px;font-size:12px;color:#5c5c5c;">0</span>
<span class="t" style="left:1130.4px;top:455.7px;font-size:12px;color:#b0b0b0;">1</span>
<span class="t" style="left:1130.56px;top:402.7px;font-size:12px;color:#b0b0b0;">2</span>
<span class="t" style="left:1130.6px;top:349.7px;font-size:12px;color:#b0b0b0;">3</span>
<span class="t" style="left:1130.6px;top:296.7px;font-size:12px;color:#b0b0b0;">4</span>
<span class="t" style="left:1130.57px;top:243.7px;font-size:12px;color:#b0b0b0;">5</span>
<span class="t" style="left:1130.52px;top:190.7px;font-size:12px;color:#b0b0b0;">6</span>
<span class="t" style="left:1130.56px;top:137.7px;font-size:12px;color:#b0b0b0;">7</span>
<span class="t" style="left:192.02px;top:524.3px;font-size:12px;color:#aaa;letter-spacing:0.06px;">Sun 22</span>
<span class="t" style="left:304.14px;top:524.3px;font-size:12px;color:#aaa;letter-spacing:0.06px;">Sun 29</span>
<span class="t" style="left:417.07px;top:524.3px;font-size:12px;color:#636363;letter-spacing:0.35px;">Apr 05</span>
<span class="t" style="left:528.36px;top:524.3px;font-size:12px;color:#aaa;letter-spacing:0.06px;">Sun 12</span>
<span class="t" style="left:640.48px;top:524.3px;font-size:12px;color:#aaa;letter-spacing:0.06px;">Sun 19</span>
<span class="t" style="left:752.59px;top:524.3px;font-size:12px;color:#aaa;letter-spacing:0.05px;">Sun 26</span>
<span class="t" style="left:863.27px;top:524.3px;font-size:12px;color:#636363;letter-spacing:0.27px;">May 03</span>
<span class="t" style="left:976.82px;top:524.3px;font-size:12px;color:#aaa;letter-spacing:0.04px;">Sun 10</span>
<span class="t" style="left:1088.94px;top:524.3px;font-size:12px;color:#aaa;letter-spacing:0.06px;">Sun 17</span>
<span class="t" style="left:146.82px;top:594.3px;font-size:12px;color:#aaa;letter-spacing:0.48px;">Dec</span>
<span class="t" style="left:321.4px;top:594.3px;font-size:12px;color:#636363;letter-spacing:0.46px;">2020</span>
<span class="t" style="left:502.37px;top:594.3px;font-size:12px;color:#aaa;letter-spacing:0.26px;">Feb</span>
<span class="t" style="left:666.52px;top:594.3px;font-size:12px;color:#aaa;letter-spacing:0.86px;">Mar</span>
<span class="t" style="left:845.38px;top:594.3px;font-size:12px;color:#aaa;letter-spacing:0.27px;">Apr</span>
<span class="t" style="left:1014.82px;top:594.3px;font-size:12px;color:#aaa;letter-spacing:0.67px;">May</span>
<span class="t" style="left:1180.27px;top:76px;font-size:13px;color:#444;letter-spacing:0.52px;-webkit-text-stroke:0.3px currentColor;">All groups</span>
<span class="t" style="left:1345.91px;top:76px;font-size:13px;color:#5572dd;letter-spacing:0.11px;">Select all</span>
<span class="t" style="left:1207.34px;top:109px;font-size:14px;color:#444;letter-spacing:0.44px;">Welding</span>
<span class="t" style="left:1206.25px;top:136px;font-size:14px;color:#444;letter-spacing:0.41px;">Engineering</span>
<span class="t" style="left:1206.49px;top:163px;font-size:14px;color:#444;letter-spacing:0.57px;">Construction</span>
<span class="t" style="left:1206.05px;top:190px;font-size:14px;color:#444;letter-spacing:0.23px;">Electric</span>
<span class="t" style="left:1207.37px;top:217px;font-size:14px;color:#444;letter-spacing:0.17px;">Assembly</span>
<span class="t" style="left:1206.76px;top:244px;font-size:14px;color:#444;letter-spacing:0.6px;">Support</span>
<span class="t" style="left:1207.34px;top:271px;font-size:14px;color:#444;letter-spacing:-0.07px;">WW Capacity</span>
<span class="t" style="left:1206.25px;top:298px;font-size:14px;color:#444;letter-spacing:-0.29px;">NL PROD</span>
<span class="t" style="left:1205.98px;top:325px;font-size:14px;color:#444;letter-spacing:-0.35px;">JIRA_team</span>
<span class="t" style="left:40.42px;top:672.1px;font-size:16px;color:#727272;-webkit-text-stroke:0.2px currentColor;">?</span>
</div>
</body></html>
